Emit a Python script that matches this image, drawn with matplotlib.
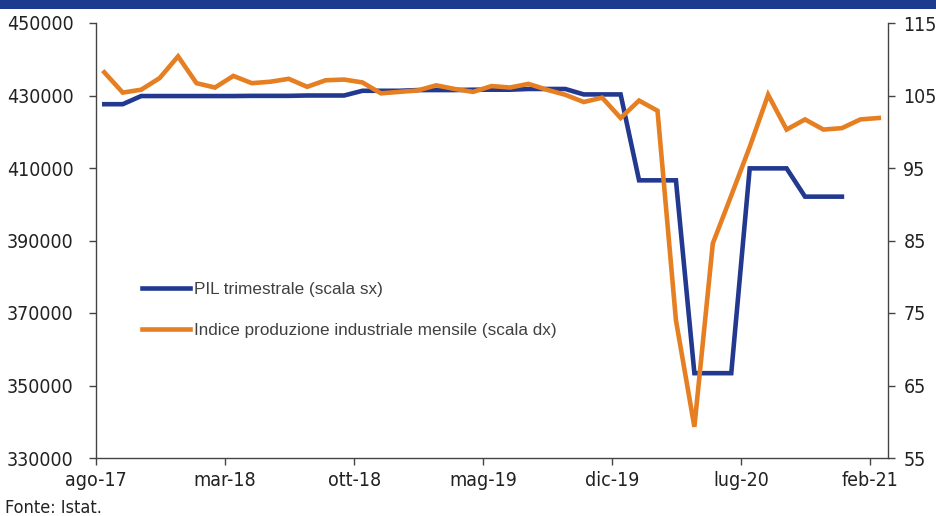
import matplotlib
matplotlib.use("Agg")
import matplotlib.pyplot as plt
from matplotlib.patches import Rectangle
from matplotlib import font_manager
import numpy as np

# Monthly axis: ago-17 ... feb-21
months = ["ago-17", "set-17", "ott-17", "nov-17", "dic-17", "gen-18", "feb-18", "mar-18",
          "apr-18", "mag-18", "giu-18", "lug-18", "ago-18", "set-18", "ott-18", "nov-18",
          "dic-18", "gen-19", "feb-19", "mar-19", "apr-19", "mag-19", "giu-19", "lug-19",
          "ago-19", "set-19", "ott-19", "nov-19", "dic-19", "gen-20", "feb-20", "mar-20",
          "apr-20", "mag-20", "giu-20", "lug-20", "ago-20", "set-20", "ott-20", "nov-20",
          "dic-20", "gen-21", "feb-21"]

# PIL trimestrale (scala sx), repeated per month of each quarter, ends dic-20
pil = [427600, 427600,
       429850, 429850, 429850,
       429850, 429850, 429850,
       429900, 429900, 429900,
       430000, 430000, 430000,
       431300, 431300, 431300,
       431500, 431500, 431500,
       431600, 431600, 431600,
       431800, 431800, 431800,
       430300, 430300, 430300,
       406600, 406600, 406600,
       353400, 353400, 353400,
       409900, 409900, 409900,
       402100, 402100, 402100]

# Indice produzione industriale mensile (scala dx)
ipi = [108.2, 105.4, 105.8, 107.4, 110.4, 106.7, 106.1, 107.7, 106.7, 106.9,
       107.3, 106.2, 107.1, 107.2, 106.8, 105.3, 105.5, 105.7, 106.4, 105.9,
       105.5, 106.3, 106.1, 106.6, 105.8, 105.1, 104.1, 104.7, 101.9, 104.3,
       102.9, 74.0, 59.3, 84.6, 91.2, 97.9, 105.1, 100.3, 101.7, 100.3,
       100.5, 101.7, 101.9]

tick_labels = ["ago-17", "mar-18", "ott-18", "mag-19", "dic-19", "lug-20", "feb-21"]

left_ticks = [330000, 350000, 370000, 390000, 410000, 430000, 450000]
right_ticks = [55, 65, 75, 85, 95, 105, 115]

BLUE = "#22398f"
ORANGE = "#e67e22"
TXT = "#222222"

names = {f.name for f in font_manager.fontManager.ttflist}
cond = [f for f in font_manager.fontManager.ttflist
        if f.name == "DejaVu Sans" and f.stretch == "condensed" and f.weight in (400, "normal")]
if "Liberation Sans Narrow" in names:
    tick_kw = dict(fontfamily=["Liberation Sans Narrow", "DejaVu Sans"], fontsize=15)
elif cond:
    tick_kw = dict(fontfamily=["DejaVu Sans"], fontstretch="condensed", fontsize=14)
else:
    tick_kw = dict(fontfamily=["Liberation Sans", "DejaVu Sans"], fontsize=14)

fig = plt.figure(figsize=(9.37, 5.16), dpi=100)
fig.patch.set_facecolor("white")
fig.patches.append(Rectangle((0, 1 - 9 / 516), 1, 9 / 516, transform=fig.transFigure,
                             facecolor="#1f3b8f", edgecolor="none", zorder=0))

ax = fig.add_axes([96 / 937, 1 - 458 / 516, (888 - 96) / 937, (458 - 23) / 516])
ax2 = ax.twinx()

x_pil = np.arange(len(pil))
x_ipi = np.arange(len(ipi))

l1, = ax.plot(x_pil, pil, color=BLUE, lw=3.3, solid_joinstyle="miter", zorder=3,
              label="PIL trimestrale (scala sx)")
l2, = ax2.plot(x_ipi, ipi, color=ORANGE, lw=3.3, solid_joinstyle="miter", zorder=3,
               label="Indice produzione industriale mensile (scala dx)")

ax.set_xlim(-0.42, 42.5)
ax.set_ylim(330000, 450000)
ax2.set_ylim(55, 115)

tick_pos = [months.index(t) - 0.45 for t in tick_labels]
ax.set_xticks(tick_pos)
ax.set_xticklabels(tick_labels, color=TXT, **tick_kw)
ax.set_yticks(left_ticks)
ax.set_yticklabels([str(v) for v in left_ticks], color=TXT, **tick_kw)
ax2.set_yticks(right_ticks)
ax2.set_yticklabels([str(v) for v in right_ticks], color=TXT, **tick_kw)

for a in (ax, ax2):
    a.spines["top"].set_visible(False)
    for s in a.spines.values():
        s.set_color("#444444")
        s.set_linewidth(1.0)
ax.spines["right"].set_visible(False)
ax2.spines["left"].set_visible(False)
ax2.spines["bottom"].set_visible(False)

ax.tick_params(axis="y", direction="out", length=5, width=1, color="#444444", pad=11)
ax.tick_params(axis="x", direction="out", length=5, width=1, color="#444444", pad=4)
ax2.tick_params(axis="y", direction="out", length=5, width=1, color="#444444", pad=6)

ax2.set_zorder(ax.get_zorder() + 1)

leg = ax2.legend(handles=[l1, l2], loc="upper left",
                 bbox_to_anchor=(39 / 792, (458 - 275) / 435),
                 frameon=False, handlelength=2.8, handletextpad=0.25,
                 labelspacing=1.55, borderaxespad=0,
                 prop={"family": ["Liberation Sans", "DejaVu Sans"], "size": 12.3})
for t in leg.get_texts():
    t.set_color("#404040")

fig.text(5 / 937, 1 - 508 / 516, "Fonte: Istat.", color=TXT, ha="left", va="center",
         **{**tick_kw, "fontsize": tick_kw["fontsize"] - 1})

fig.savefig("out.png", dpi=100)
